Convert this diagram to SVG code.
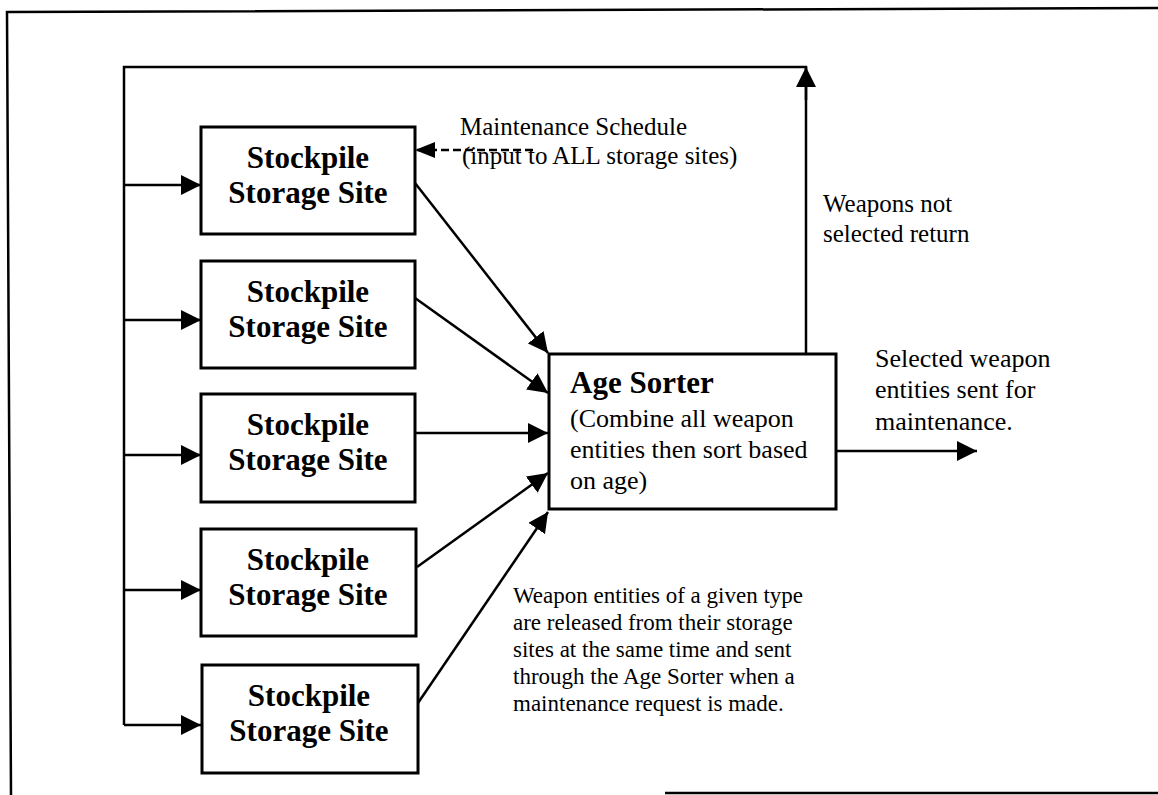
<svg xmlns="http://www.w3.org/2000/svg" width="1158" height="795" viewBox="0 0 1158 795">
<style>
.ln{stroke:#000;stroke-width:2.5;fill:none}
.box{stroke:#000;stroke-width:3;fill:#fff}
.b{font-family:"Liberation Serif","Times New Roman",serif;font-weight:bold;font-size:31px;text-anchor:middle;fill:#000}
.t{font-family:"Liberation Serif","Times New Roman",serif;font-size:26px;fill:#000}
.s{font-family:"Liberation Serif","Times New Roman",serif;font-size:25px;fill:#000}
.m{font-family:"Liberation Serif","Times New Roman",serif;font-size:23px;fill:#000}
</style>
<defs>
<marker id="ah" viewBox="0 0 20 20" refX="20" refY="10" markerWidth="20" markerHeight="20" markerUnits="userSpaceOnUse" orient="auto">
<path d="M0,0 L20,10 L0,20 Z" fill="#000"/>
</marker>
<marker id="ahs" viewBox="0 0 20 16" refX="20" refY="8" markerWidth="20" markerHeight="16" markerUnits="userSpaceOnUse" orient="auto">
<path d="M0,0 L20,8 L0,16 Z" fill="#000"/>
</marker>
</defs>
<rect width="1158" height="795" fill="#fff"/>
<g id="frame">
<path class="ln" d="M1158,8 L7,12 L11,795"/>
<path class="ln" d="M665,793 L1158,793"/>
</g>
<g id="connectors">
<path class="ln" d="M806,354 L806,67 L124,67 L124,725"/>
<path class="ln" d="M806,100 L806,67" marker-end="url(#ah)"/>
<line class="ln" x1="124" y1="185" x2="201" y2="185" marker-end="url(#ah)"/>
<line class="ln" x1="124" y1="320" x2="201" y2="320" marker-end="url(#ah)"/>
<line class="ln" x1="124" y1="455" x2="201" y2="455" marker-end="url(#ah)"/>
<line class="ln" x1="124" y1="590" x2="201" y2="590" marker-end="url(#ah)"/>
<line class="ln" x1="124" y1="725" x2="201" y2="725" marker-end="url(#ah)"/>
<line class="ln" x1="415" y1="183" x2="548" y2="353" marker-end="url(#ah)"/>
<line class="ln" x1="415" y1="298" x2="548" y2="393" marker-end="url(#ah)"/>
<line class="ln" x1="415" y1="433" x2="548" y2="433" marker-end="url(#ah)"/>
<line class="ln" x1="417" y1="567" x2="548" y2="473" marker-end="url(#ah)"/>
<line class="ln" x1="418" y1="703" x2="548" y2="512" marker-end="url(#ah)"/>
<line class="ln" x1="836" y1="451" x2="977" y2="451" marker-end="url(#ah)"/>
<line class="ln" x1="533" y1="150" x2="415" y2="150" stroke-dasharray="8,4" marker-end="url(#ahs)"/>
</g>
<g id="site1"><rect class="box" x="201" y="127" width="214" height="107"/><text class="b" x="308" y="168">Stockpile</text><text class="b" x="308" y="203">Storage Site</text></g>
<g id="site2"><rect class="box" x="201" y="261" width="214" height="107"/><text class="b" x="308" y="302">Stockpile</text><text class="b" x="308" y="337">Storage Site</text></g>
<g id="site3"><rect class="box" x="201" y="394" width="214" height="108"/><text class="b" x="308" y="435">Stockpile</text><text class="b" x="308" y="470">Storage Site</text></g>
<g id="site4"><rect class="box" x="201" y="529" width="215" height="107"/><text class="b" x="308" y="570">Stockpile</text><text class="b" x="308" y="605">Storage Site</text></g>
<g id="site5"><rect class="box" x="202" y="665" width="216" height="108"/><text class="b" x="309" y="706">Stockpile</text><text class="b" x="309" y="741">Storage Site</text></g>
<g id="age-sorter"><rect class="box" x="549" y="354" width="287" height="155"/>
<text class="b" x="570" y="393" style="text-anchor:start">Age Sorter</text>
<text class="t" x="570" y="427">(Combine all weapon</text>
<text class="t" x="570" y="458">entities then sort based</text>
<text class="t" x="570" y="489">on age)</text>
</g>
<g id="labels">
<text class="s" x="460" y="135">Maintenance Schedule</text>
<text class="s" x="462" y="164">(input to ALL storage sites)</text>
<text class="s" x="823" y="212">Weapons not</text>
<text class="s" x="823" y="242">selected return</text>
<text class="t" x="875" y="367">Selected weapon</text>
<text class="t" x="875" y="398">entities sent for</text>
<text class="t" x="875" y="430">maintenance.</text>
<text class="m" x="513" y="603">Weapon entities of a given type</text>
<text class="m" x="513" y="630">are released from their storage</text>
<text class="m" x="513" y="657">sites at the same time and sent</text>
<text class="m" x="513" y="684">through the Age Sorter when a</text>
<text class="m" x="513" y="711">maintenance request is made.</text>
</g>
</svg>
